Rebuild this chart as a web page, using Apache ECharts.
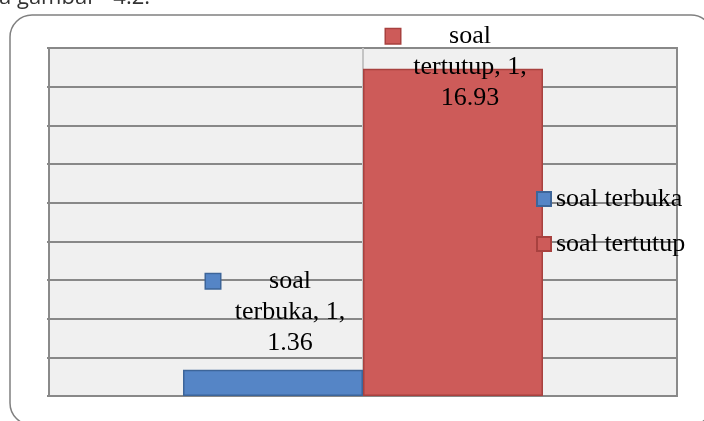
<!DOCTYPE html>
<html>
<head>
<meta charset="utf-8">
<script src="https://cdn.jsdelivr.net/npm/echarts/dist/echarts.min.js"></script>
<style>
html,body{margin:0;padding:0;background:#fff;}
#chart{width:704px;height:421px;}
</style>
</head>
<body>
<div id="chart"></div>
<script>
// data
var categories = ['1'];
var seriesNames = ['soal terbuka', 'soal tertutup'];
var terbukaValues = [1.36];
var tertutupValues = [16.93];
var yMin = 0, yMax = 18, yStep = 2;

var serif = '"Liberation Serif", "DejaVu Serif", serif';

// label like excel: key box + "name, category, value"
function labelText(p){
    var parts = p.seriesName.split(' ');
    return '{k|}{g|}{t|' + parts[0] + '}\n'
        + '{s|}{t|' + parts.slice(1).join(' ') + ', ' + p.name + ',}\n'
        + '{s|}{t|' + p.value + '}';
}
function labelRich(fill, border){
    return {
        k:{width:14, height:14, lineHeight:31, backgroundColor:fill, borderColor:border, borderWidth:1.5},
        g:{width:10, lineHeight:31},
        s:{width:24, lineHeight:31},
        t:{width:120, align:'center', fontFamily:serif, fontSize:26, lineHeight:31, color:'#000'}
    };
}

var chart = echarts.init(document.getElementById('chart'));
chart.setOption({
    animation:false,
    graphic:[
        {
            type:'rect', z:-10, silent:true,
            shape:{x:10, y:15, width:703, height:410, r:22},
            style:{fill:'none', stroke:'#808080', lineWidth:1.5}
        },
        {
            type:'text', silent:true, x:-1, y:9,
            style:{text:'a gambar   4.2.', font:'22px "Open Sans", sans-serif', fill:'#333', verticalAlign:'bottom'}
        }
    ],
    grid:{
        left:49, top:48, right:27, bottom:25,
        show:true, backgroundColor:'#f0f0f0', borderColor:'#8a8a8a', borderWidth:2
    },
    legend:{
        data:seriesNames,
        orient:'vertical',
        left:536, top:184, padding:0,
        itemWidth:14, itemHeight:14, itemGap:15,
        icon:'rect',
        textStyle:{fontFamily:serif, fontSize:26, lineHeight:30, color:'#000'}
    },
    xAxis:{
        type:'category',
        data:categories,
        axisLabel:{show:false},
        axisTick:{show:false},
        axisLine:{show:false},
        splitLine:{show:false}
    },
    yAxis:{
        type:'value',
        min:yMin, max:yMax, interval:yStep,
        axisLabel:{show:false},
        axisLine:{show:false},
        axisTick:{show:true, length:2, lineStyle:{color:'#888', width:2}},
        splitLine:{lineStyle:{color:'#888', width:2}}
    },
    series:[
        {
            // only carries the light vertical line at the category centre
            name:'centre',
            type:'line',
            data:[],
            z:1,
            markLine:{
                z:1,
                silent:true,
                symbol:'none',
                label:{show:false},
                lineStyle:{color:'#c4c4c4', type:'solid', width:2},
                data:[{xAxis:0}]
            }
        },
        {
            name:seriesNames[0],
            type:'bar',
            data:terbukaValues,
            barWidth:180,
            barGap:'0%',
            z:2,
            itemStyle:{color:'#5585c6', borderColor:'#3d6599', borderWidth:1.5},
            label:{
                show:true,
                position:['50%', -104],
                align:'center', verticalAlign:'top',
                offset:[5, 0],
                formatter:labelText,
                rich:labelRich('#5585c6', '#3d6599')
            }
        },
        {
            name:seriesNames[1],
            type:'bar',
            data:tertutupValues,
            barWidth:180,
            barGap:'0%',
            z:3,
            itemStyle:{color:'#cd5b59', borderColor:'#a8413f', borderWidth:1.5},
            label:{
                show:true,
                position:['50%', -48],
                align:'center', verticalAlign:'top',
                offset:[5, 0],
                formatter:labelText,
                rich:labelRich('#cd5b59', '#a8413f')
            }
        }
    ]
});
</script>
</body>
</html>
